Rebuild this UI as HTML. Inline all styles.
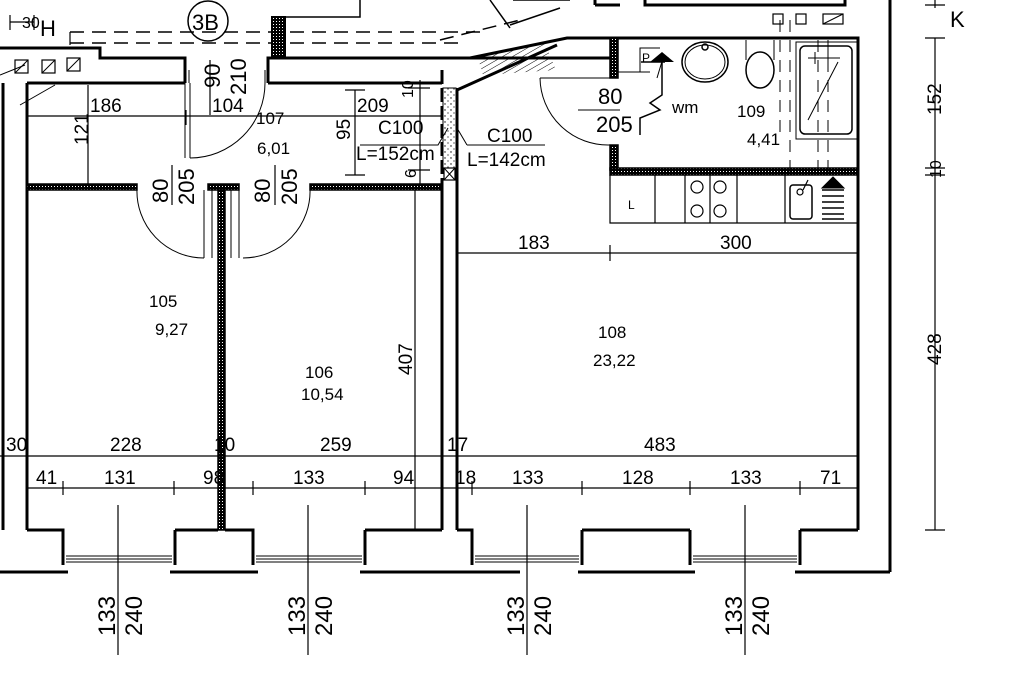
<!DOCTYPE html>
<html><head><meta charset="utf-8"><style>
html,body{margin:0;padding:0;background:#fff;width:1024px;height:679px;overflow:hidden}
svg{display:block}
text{font-family:"Liberation Sans Narrow","Liberation Sans",sans-serif;fill:#000}
.d{font-size:19px}
.b{font-family:"Liberation Sans",sans-serif;font-size:17px}
</style></head><body>
<svg width="1024" height="679" viewBox="0 0 1024 679" xmlns="http://www.w3.org/2000/svg">
<defs>
<pattern id="h" width="3" height="3" patternUnits="userSpaceOnUse"><rect width="3" height="3" fill="#000"/><rect width="1" height="1" fill="#fff"/></pattern>
<pattern id="dg" width="5" height="5" patternUnits="userSpaceOnUse" patternTransform="rotate(60)"><line x1="0" y1="0" x2="0" y2="5" stroke="#000" stroke-width="1"/></pattern>
<pattern id="st" width="6" height="6" patternUnits="userSpaceOnUse"><rect width="6" height="6" fill="#fff"/><circle cx="1" cy="2" r="0.7" fill="#000"/><circle cx="4" cy="5" r="0.6" fill="#000"/></pattern>
</defs>
<g fill="none" stroke="#000">
<path d="M70 32H480 M70 43H460" stroke-width="1.5" stroke-dasharray="14,8"/>
<path d="M70 32V45" stroke-width="1.2"/>
<path d="M0 48H100V58H185V83" stroke-width="3"/>
<path d="M27 83H185 M268 83H442" stroke-width="3"/>
<path d="M268 83V58H610" stroke-width="3"/>
<path d="M189 70V83 M265 70V83" stroke-width="1"/>
<rect x="272" y="17" width="13" height="41" fill="url(#h)" stroke-width="2"/>
<path d="M285 17H360V0" stroke-width="1.5"/>
<rect x="15" y="60" width="13" height="13" stroke-width="1.2"/><path d="M15 73L28 60"/>
<rect x="42" y="60" width="13" height="13" stroke-width="1.2"/><path d="M42 73L55 60"/>
<rect x="67" y="58" width="13" height="13" stroke-width="1.2"/><path d="M67 71L80 58"/>
<path d="M0 75L25 65 M20 105L55 85" stroke-width="1"/>
<path d="M27 83V530" stroke-width="3"/>
<path d="M3 83V530" stroke-width="3"/>
<rect x="27" y="184" width="110" height="6" fill="url(#h)" stroke-width="1.5"/>
<rect x="208" y="184" width="31" height="6" fill="url(#h)" stroke-width="1.5"/>
<rect x="310" y="184" width="132" height="6" fill="url(#h)" stroke-width="1.5"/>
<rect x="218" y="190" width="7" height="340" fill="url(#h)" stroke-width="1.5"/>
<path d="M204 190V258 M212 190V258 M231 190V258 M239 190V258" stroke-width="1"/>
<path d="M185 158V83 M190 158V83" stroke-width="1"/>
<path d="M190 158A75 75 0 0 0 265 83" stroke-width="1"/>
<path d="M137 188A67 67 0 0 0 204 258" stroke-width="1"/>
<path d="M310 188A67 67 0 0 1 243 258" stroke-width="1"/>
<path d="M442 70V185" stroke-width="3" stroke-dasharray="14,4"/>
<path d="M442 185V530" stroke-width="3"/>
<path d="M457 88V530" stroke-width="3"/>
<rect x="443" y="88" width="13" height="80" fill="url(#st)" stroke-width="1"/>
<rect x="444" y="168" width="11" height="12" stroke-width="1.2"/><path d="M444 168L455 180M455 168L444 180" stroke-width="1"/>
<path d="M420 58H470L567 38H610" stroke-width="3"/>
<path d="M457 90L557 45" stroke-width="3"/>
<polygon points="478,58 545,43 556,70 483,75" fill="url(#dg)" stroke="none"/>
<path d="M490 0L510 28 M513 0L570 0 M510 25L560 8" stroke-width="1.5"/>
<path d="M595 5H620 M595 0V5 M645 0V5H845V0" stroke-width="3"/>
<path d="M440 40L520 20" stroke-width="1.5" stroke-dasharray="14,8"/>
<path d="M610 38H858V168" stroke-width="3"/>
<rect x="610" y="38" width="8" height="40" fill="url(#h)" stroke-width="1.5"/>
<rect x="610" y="145" width="8" height="25" fill="url(#h)" stroke-width="1.5"/>
<rect x="610" y="168" width="248" height="7" fill="url(#h)" stroke-width="1.5"/>
<path d="M618 72H650 M618 78H610" stroke-width="1"/>
<path d="M540 78H612 M540 78A68 68 0 0 0 610 145" stroke-width="1"/>
<ellipse cx="705" cy="62" rx="23" ry="20" stroke-width="1.5"/>
<ellipse cx="705" cy="62" rx="20" ry="17" stroke-width="1"/>
<circle cx="705" cy="47" r="3" stroke-width="1.5"/>
<ellipse cx="760" cy="70" rx="14" ry="18" stroke-width="1.5"/>
<path d="M746 60V40 M774 60V40" stroke-width="1"/>
<rect x="796" y="42" width="62" height="97" stroke-width="1"/>
<rect x="800" y="46" width="52" height="88" rx="5" stroke-width="1.5"/>
<path d="M808 58H840 M815 52V64 M828 52V64 M808 120L838 62" stroke-width="1"/>
<path d="M780 20V140 M790 20V175 M818 40V175 M828 40V175" stroke-width="1" stroke-dasharray="12,8"/>
<rect x="773" y="14" width="10" height="10" stroke-width="1.2"/>
<rect x="796" y="14" width="10" height="10" stroke-width="1.2"/>
<rect x="823" y="14" width="20" height="10" stroke-width="1.2"/><path d="M823 24L843 14"/>
<path d="M640 72V48H660 M657 78L663 58H669" stroke-width="1"/>
<polygon points="650,62 662,52 674,62" fill="#000" stroke="none"/>
<path d="M641 62L665 62 M662 62V95L650 103L660 110L640 118V135" stroke-width="1.5"/>
<path d="M578 110H620" stroke-width="1"/>
<path d="M610 175V223H858V175 M655 175V223 M685 175V223 M710 175V223 M737 175V223 M785 175V223" stroke-width="1.2"/>
<circle cx="697" cy="187" r="6" stroke-width="1.2"/><circle cx="720" cy="187" r="6" stroke-width="1.2"/>
<circle cx="697" cy="211" r="6" stroke-width="1.2"/><circle cx="720" cy="211" r="6" stroke-width="1.2"/>
<rect x="790" y="185" width="22" height="34" rx="3" stroke-width="1.5"/>
<circle cx="800" cy="192" r="3" stroke-width="1.2"/><path d="M803 190L808 180" stroke-width="1.2"/>
<path d="M822 190H844 M822 196H844 M822 202H844 M822 208H844 M822 214H844 M822 219H844" stroke-width="1.5"/>
<polygon points="822,188 833,177 844,188" fill="#000"/>
<path d="M858 38V530" stroke-width="3"/>
<path d="M890 0V572" stroke-width="3"/>
<path d="M27 530H63V565 M175 530H218 M225 530H253V565 M365 530H442 M457 530H472V565 M582 530H690 M800 530H858" stroke-width="3"/>
<path d="M175 530V565 M365 530V565 M582 530V565 M690 530V565 M800 530V565" stroke-width="3"/>
<path d="M0 572H68 M170 572H258 M360 572H520 M578 572H695 M795 572H890" stroke-width="3"/>
<g stroke-width="1">
<path d="M66 556H172 M66 559H172 M66 562H172"/>
<path d="M256 556H362 M256 559H362 M256 562H362"/>
<path d="M475 556H579 M475 559H579 M475 562H579"/>
<path d="M693 556H797 M693 559H797 M693 562H797"/>
</g>
<g stroke-width="1.2">
<path d="M27 116H442 M186 110V125 M88 85V185"/>
<path d="M345 90H365 M345 175H365 M355 90V175"/>
<path d="M408 88H430 M408 170H430 M420 80V185"/>
<path d="M172 165V205 M275 165V205"/>
<path d="M210 60V115"/>
<path d="M457 253H858 M610 245V261"/>
<path d="M415 190V530"/>
<path d="M0 456H858 M220 450V462"/>
<path d="M27 488H858"/>
<path d="M63 481V495 M174 481V495 M253 481V495 M365 481V495 M472 481V495 M582 481V495 M690 481V495 M800 481V495"/>
<path d="M118 505V655 M308 505V655 M527 505V655 M745 505V655"/>
<path d="M935 38V530 M925 38H945 M925 530H945 M925 168H945 M925 175H945"/>
<path d="M935 0V8 M925 5H945"/>
<path d="M10 22H34 M10 15V30 M34 15V30"/>
</g>
<circle cx="208" cy="21" r="20" stroke-width="1.5"/>
<path d="M360 145H438L448 128 M467 145H545 M457 128L467 145" stroke-width="1"/>
</g>
<g class="d">
<text x="22" y="28" font-size="16">30</text>
<text x="40" y="36" font-size="22">H</text>
<text x="192" y="30" font-size="22">3B</text>
<text x="90" y="112">186</text>
<text x="212" y="112">104</text>
<text x="357" y="112">209</text>
<text x="378" y="134">C100</text>
<text x="356" y="160">L=152cm</text>
<text x="487" y="142">C100</text>
<text x="467" y="166">L=142cm</text>
<text x="598" y="104" font-size="22">80</text>
<text x="596" y="132" font-size="22">205</text>
<text x="672" y="113" font-size="17">wm</text>
<text x="518" y="249">183</text>
<text x="720" y="249">300</text>
<text x="6" y="451">30</text>
<text x="110" y="451">228</text>
<text x="214" y="451">10</text>
<text x="320" y="451">259</text>
<text x="447" y="451">17</text>
<text x="644" y="451">483</text>
<text x="36" y="484">41</text>
<text x="104" y="484">131</text>
<text x="203" y="484">98</text>
<text x="293" y="484">133</text>
<text x="393" y="484">94</text>
<text x="455" y="484">18</text>
<text x="512" y="484">133</text>
<text x="622" y="484">128</text>
<text x="730" y="484">133</text>
<text x="820" y="484">71</text>
<text x="950" y="27" font-size="22">K</text>
<text transform="translate(88,145) rotate(-90)">121</text>
<text transform="translate(350,140) rotate(-90)">95</text>
<text transform="translate(413,98) rotate(-90)" font-size="16">10</text>
<text transform="translate(416,178) rotate(-90)" font-size="16">6</text>
<text transform="translate(220,88) rotate(-90)" font-size="22">90</text>
<text transform="translate(246,95) rotate(-90)" font-size="22">210</text>
<text transform="translate(168,203) rotate(-90)" font-size="22">80</text>
<text transform="translate(194,205) rotate(-90)" font-size="22">205</text>
<text transform="translate(270,203) rotate(-90)" font-size="22">80</text>
<text transform="translate(297,205) rotate(-90)" font-size="22">205</text>
<text transform="translate(412,375) rotate(-90)">407</text>
<text transform="translate(941,115) rotate(-90)">152</text>
<text transform="translate(941,178) rotate(-90)" font-size="16">10</text>
<text transform="translate(941,365) rotate(-90)">428</text>
<g font-size="24">
<text transform="translate(115,636) rotate(-90)">133</text>
<text transform="translate(142,636) rotate(-90)">240</text>
<text transform="translate(305,636) rotate(-90)">133</text>
<text transform="translate(332,636) rotate(-90)">240</text>
<text transform="translate(524,636) rotate(-90)">133</text>
<text transform="translate(551,636) rotate(-90)">240</text>
<text transform="translate(742,636) rotate(-90)">133</text>
<text transform="translate(769,636) rotate(-90)">240</text>
</g>
</g>
<g class="b">
<text x="256" y="124">107</text>
<text x="257" y="154">6,01</text>
<text x="737" y="117">109</text>
<text x="747" y="145">4,41</text>
<text x="149" y="307">105</text>
<text x="155" y="335">9,27</text>
<text x="305" y="378">106</text>
<text x="301" y="400">10,54</text>
<text x="598" y="338">108</text>
<text x="593" y="366">23,22</text>
<text x="642" y="62" font-size="12">P</text>
<text x="628" y="209" font-size="12">L</text>
</g>
</svg>
</body></html>
